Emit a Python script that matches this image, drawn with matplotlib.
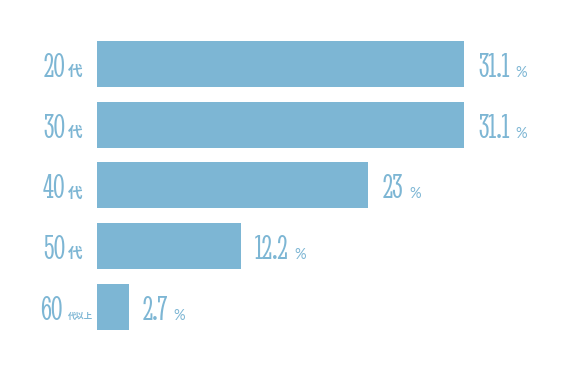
import matplotlib.pyplot as plt

ages = ['20', '30', '40', '50', '60']
suffixes = ['代', '代', '代', '代', '代以上']
values = [31.1, 31.1, 23, 12.2, 2.7]
value_labels = ['31.1', '31.1', '23', '12.2', '2.7']

color = '#7db6d4'
num_font = ['Stint Ultra Condensed', 'Oranienbaum', 'DejaVu Serif']
cjk = ['Noto Sans CJK JP', 'DejaVu Sans']
pct_font = ['Lato', 'DejaVu Sans']

W, H = 570, 370
fig = plt.figure(figsize=(W / 100, H / 100), dpi=100)
ax = fig.add_axes([97 / W, 0, 470 / W, 1])
px = 367 / 31.1          # pixels per percent
row = 60.7               # pixels between bar centres
first = 64               # centre of the first bar, from the top
ax.set_xlim(0, 470 / px)
ax.set_ylim((H - first) / row, -first / row)
ax.axis('off')

y = list(range(len(values)))
ax.barh(y, values, height=46 / row, color=color)

fig.canvas.draw()
for i, (a, s, v, lab) in enumerate(zip(ages, suffixes, values, value_labels)):
    long = len(s) > 1
    # suffix and age number to the left of the bar
    ax.annotate(s, (0, i), xytext=(-4 if long else -14, -12), textcoords='offset pixels',
                ha='right', va='baseline', color=color,
                fontsize=6 if long else 10.5, family=cjk, fontweight='bold')
    ax.annotate(a, (0, i), xytext=(-34 if long else -32, -13), textcoords='offset pixels',
                ha='right', va='baseline', color=color, fontsize=25, family=num_font)
    # value and percent sign to the right of the bar
    t = ax.annotate(lab, (v, i), xytext=(14, -13), textcoords='offset pixels',
                    ha='left', va='baseline', color=color, fontsize=25, family=num_font)
    fig.canvas.draw()
    bb = t.get_window_extent()
    x0, _ = ax.transData.transform((v, i))
    ax.annotate('%', (v, i), xytext=(bb.x1 - x0 + 6, -13), textcoords='offset pixels',
                ha='left', va='baseline', color=color, fontsize=10.5, family=pct_font)

fig.savefig('out.png', dpi=100)
